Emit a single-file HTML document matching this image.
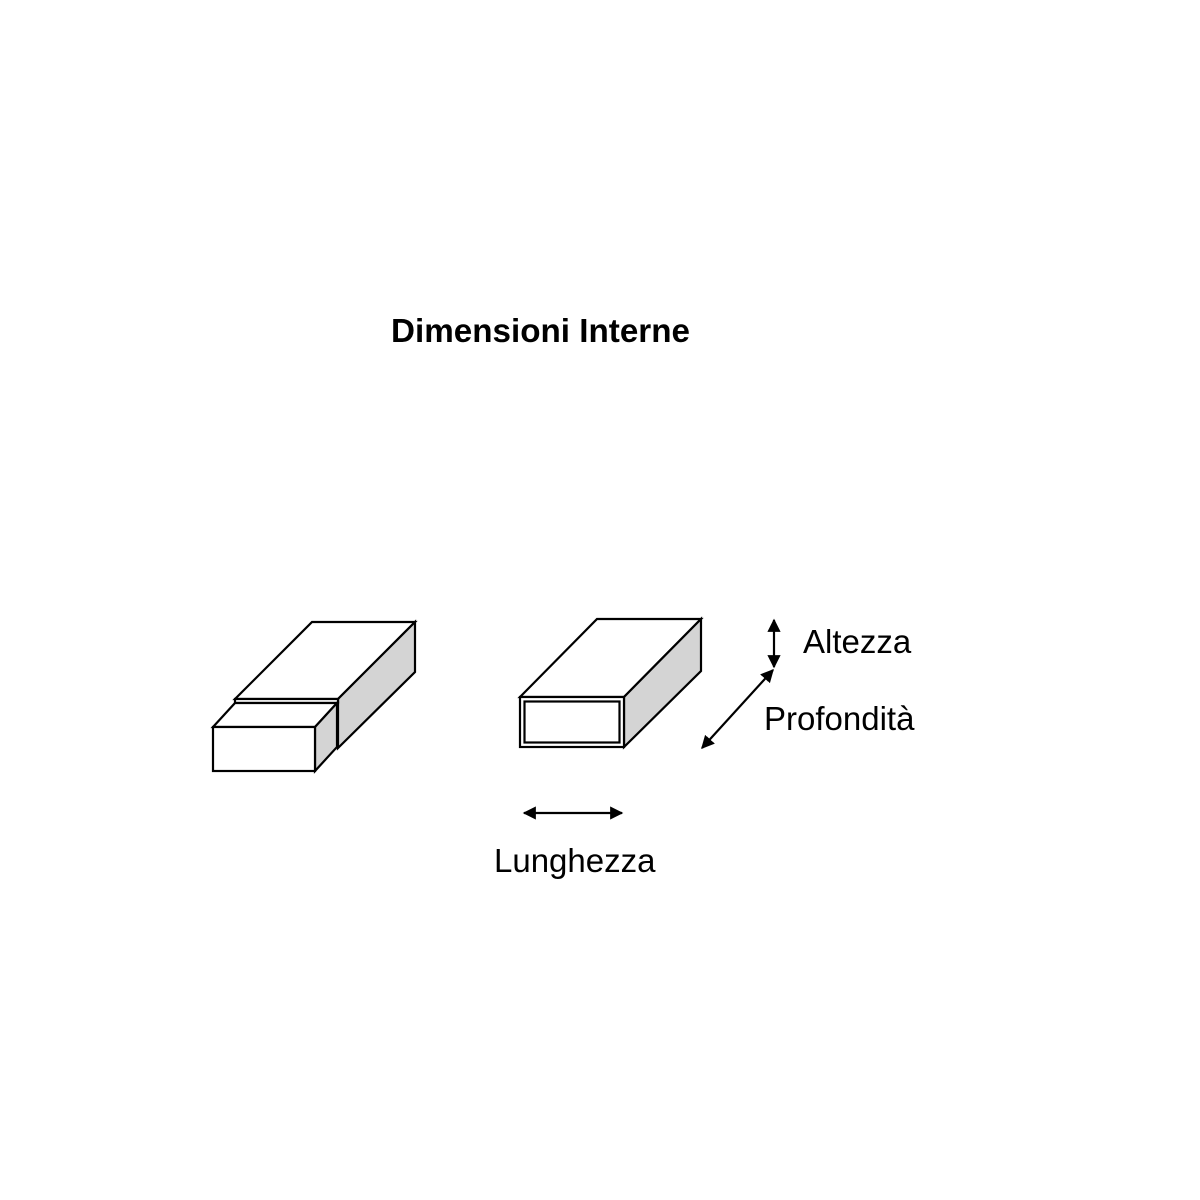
<!DOCTYPE html>
<html><head><style>
html,body{margin:0;padding:0;background:#fff;}
svg{display:block;}
text{font-family:"Liberation Sans",Arial,sans-serif;fill:#000;}
</style></head><body>
<svg width="1200" height="1200" viewBox="0 0 1200 1200" xmlns="http://www.w3.org/2000/svg">
<defs>
<marker id="ah" viewBox="0 0 10 10" refX="9" refY="5" markerWidth="6" markerHeight="6" orient="auto-start-reverse" markerUnits="strokeWidth">
<path d="M0,0 L10,5 L0,10 z" fill="#000"/></marker>
</defs>
<rect width="1200" height="1200" fill="#fff"/>
<text x="391" y="342" font-size="33" font-weight="bold" textLength="299" lengthAdjust="spacingAndGlyphs">Dimensioni Interne</text>
<g stroke="#000" stroke-width="2.2" stroke-linejoin="miter">
<polygon points="235,699 312,622 415,622 338,699" fill="#fff"/>
<polygon points="338,699 415,622 415,672 338,748" fill="#d4d4d4"/>
<rect x="235" y="699" width="103" height="4" fill="#fff"/>
<polygon points="213,727 235,703 337,703 315,727" fill="#fff"/>
<polygon points="315,727 337,703 337,747 315,771" fill="#d4d4d4"/>
<rect x="213" y="727" width="102" height="44" fill="#fff"/>
<polygon points="520,697 597,619 701,619 624,697" fill="#fff"/>
<polygon points="624,697 701,619 701,671 624,747" fill="#d4d4d4"/>
<rect x="520" y="697" width="104" height="50" fill="#fff"/>
<rect x="524.5" y="701.5" width="95" height="41" fill="#fff"/>
<line x1="524" y1="813" x2="622" y2="813" marker-start="url(#ah)" marker-end="url(#ah)"/>
<line x1="774" y1="620" x2="774" y2="667" marker-start="url(#ah)" marker-end="url(#ah)"/>
<line x1="773" y1="670" x2="702" y2="748" marker-start="url(#ah)" marker-end="url(#ah)"/>
</g>
<text x="803" y="653" font-size="33">Altezza</text>
<text x="764" y="730" font-size="33">Profondità</text>
<text x="494" y="872" font-size="33">Lunghezza</text>
</svg>
</body></html>
